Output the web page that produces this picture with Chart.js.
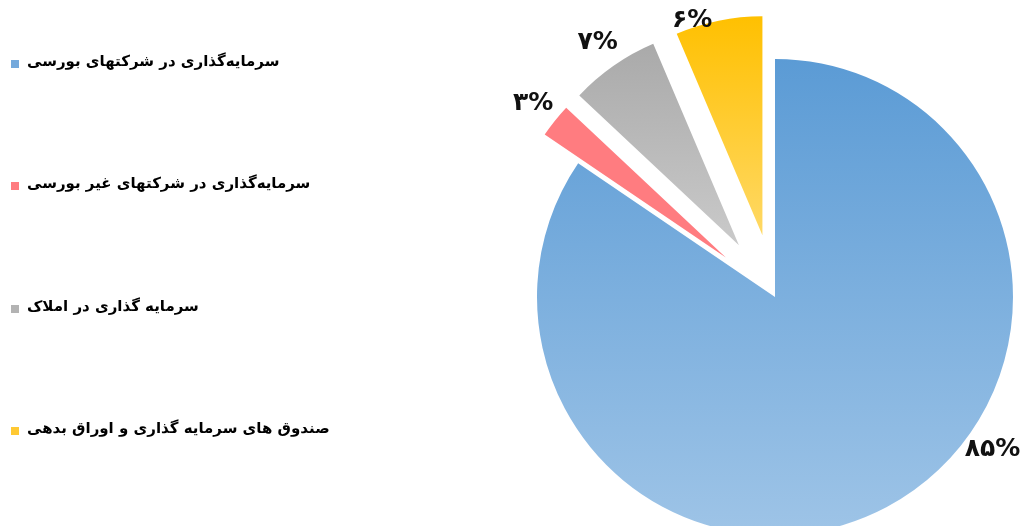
<!DOCTYPE html>
<html>
<head>
<meta charset="utf-8">
<script src="https://cdn.jsdelivr.net/npm/chart.js@4"></script>
<style>
  html, body { margin: 0; padding: 0; background: #fff; overflow: hidden; }
  #wrap { position: relative; width: 1025px; height: 526px; }
  #pie { position: absolute; left: 0; top: 0; }
  #legend {
    position: absolute; left: 11px; top: 0;
    font-family: 'DejaVu Sans', sans-serif; font-weight: bold; font-size: 15px; color: #000;
  }
  .item { position: absolute; left: 0; height: 20px; display: flex; align-items: center; white-space: nowrap; }
  .box { width: 8px; height: 8px; margin-right: 8px; position: relative; top: 3px; }
</style>
</head>
<body>
<div id="wrap">
  <canvas id="pie" width="1025" height="526"></canvas>
  <div id="legend"></div>
</div>
<script>
// categories and values
const labels = [
  'سرمایه\u200cگذاری در شرکتهای بورسی',
  'سرمایه\u200cگذاری در شرکتهای غیر بورسی',
  'سرمایه گذاری در املاک',
  'صندوق های سرمایه گذاری و اوراق بدهی',
];
const shares = [84.5, 2.5, 6.6, 6.4];
const percentText = ['۸۵%', '۳%', '۷%', '۶%'];

// colours (top / bottom of each slice gradient)
const topColors = ['#5B9BD5', '#FF7C80', '#A5A5A5', '#FFC000'];
const bottomColors = ['#9EC4E7', '#FF7C80', '#CACACA', '#FFDA6A'];
const legendColors = ['#74A9DC', '#FF7C80', '#B3B3B3', '#FFC933'];

// geometry
const RADIUS = 238;
const EXPLODE = 63;
const EXPLODED_RADIUS = 219;
const sliceExplode = [false, true, true, true];
const LABEL_GAP = 28;
const labelNudge = [-27, 0, 0, -5]; // degrees

// html legend
const legendBox = document.getElementById('legend');
labels.forEach((name, i) => {
  const item = document.createElement('div');
  item.className = 'item';
  item.style.top = (51 + i * 122.4) + 'px';
  const box = document.createElement('span');
  box.className = 'box';
  box.style.background = legendColors[i];
  const txt = document.createElement('span');
  txt.dir = 'rtl';
  txt.textContent = name;
  item.appendChild(box);
  item.appendChild(txt);
  legendBox.appendChild(item);
});

function sliceFill(context) {
  const chart = context.chart;
  const area = chart.chartArea;
  const i = context.dataIndex;
  if (!area) return topColors[i];
  const cy = (area.top + area.bottom) / 2;
  let y0, y1;
  if (sliceExplode[i]) {
    y0 = cy - EXPLODE - EXPLODED_RADIUS;
    y1 = cy - EXPLODE * 0.8;
  } else {
    y0 = cy - RADIUS;
    y1 = cy + RADIUS;
  }
  const g = chart.ctx.createLinearGradient(0, y0, 0, y1);
  g.addColorStop(0, topColors[i]);
  g.addColorStop(1, bottomColors[i]);
  return g;
}

// pull the small slices out along their middle angle
const explodePlugin = {
  id: 'explode',
  afterDatasetsUpdate(chart) {
    chart.getDatasetMeta(0).data.forEach((arc, i) => {
      if (!sliceExplode[i]) return;
      const mid = (arc.startAngle + arc.endAngle) / 2;
      arc.x += Math.cos(mid) * EXPLODE;
      arc.y += Math.sin(mid) * EXPLODE;
      arc.outerRadius = EXPLODED_RADIUS;
    });
  },
};

// percent labels outside each slice
const labelPlugin = {
  id: 'sliceLabels',
  afterDatasetsDraw(chart) {
    const c = chart.ctx;
    c.save();
    c.font = 'bold 25px "DejaVu Sans"';
    c.fillStyle = '#111';
    c.textAlign = 'center';
    c.textBaseline = 'middle';
    chart.getDatasetMeta(0).data.forEach((arc, i) => {
      const mid = (arc.startAngle + arc.endAngle) / 2 + labelNudge[i] * Math.PI / 180;
      const dist = arc.outerRadius + LABEL_GAP;
      let x = arc.x + Math.cos(mid) * dist;
      let y = arc.y + Math.sin(mid) * dist;
      const w = c.measureText(percentText[i]).width;
      x = Math.min(Math.max(x, w / 2 + 2), chart.width - w / 2 - 2);
      y = Math.min(Math.max(y, 20), chart.height - 20);
      c.fillText(percentText[i], x, y);
    });
    c.restore();
  },
};

new Chart(document.getElementById('pie').getContext('2d'), {
  type: 'pie',
  data: {
    labels: labels,
    datasets: [{
      data: shares,
      backgroundColor: sliceFill,
      borderWidth: 0,
      radius: RADIUS,
      clip: false,
    }],
  },
  options: {
    responsive: false,
    animation: false,
    layout: { padding: { left: 525, top: 68, right: 0, bottom: 0 } },
    plugins: {
      legend: { display: false },
      tooltip: { enabled: false },
    },
  },
  plugins: [explodePlugin, labelPlugin],
});
</script>
</body>
</html>
